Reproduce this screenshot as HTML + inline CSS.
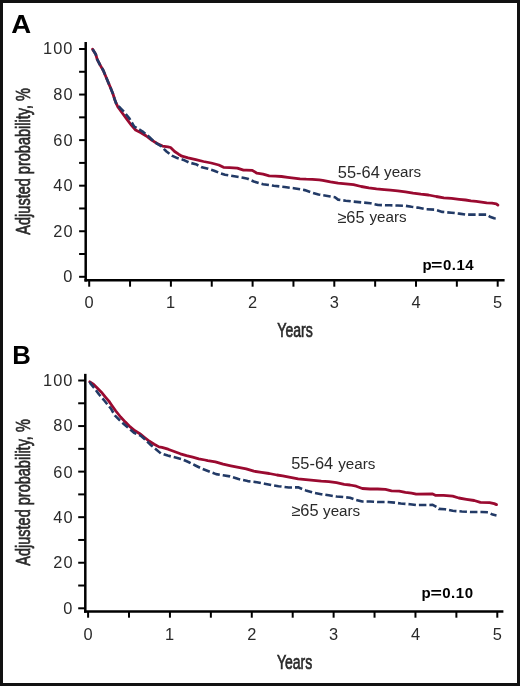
<!DOCTYPE html>
<html><head><meta charset="utf-8"><title>Figure</title>
<style>html,body{margin:0;padding:0;background:#fff;width:520px;height:686px;overflow:hidden}</style>
</head><body>
<svg width="520" height="686" viewBox="0 0 520 686" style="display:block;will-change:transform">
<rect x="0" y="0" width="520" height="686" fill="#fff"/>
<g fill="#2a2a2a" font-family="Liberation Sans, sans-serif">
<text transform="translate(11.22,32.90) scale(1.06,1)" font-size="26" font-weight="bold" fill="#000">A</text>
<text x="12.28" y="363.70" font-size="25.7" font-weight="bold" fill="#000">B</text>
<text x="63.27" y="282.14" font-size="16.4" letter-spacing="1">0</text>
<text x="53.27" y="236.58" font-size="16.4" letter-spacing="1">20</text>
<text x="53.27" y="191.02" font-size="16.4" letter-spacing="1">40</text>
<text x="53.27" y="146.06" font-size="16.4" letter-spacing="1">60</text>
<text x="53.27" y="99.90" font-size="16.4" letter-spacing="1">80</text>
<text x="43.05" y="54.34" font-size="16.4" letter-spacing="1">100</text>
<text x="84.59" y="307.80" font-size="16.4">0</text>
<text x="166.04" y="307.80" font-size="16.4">1</text>
<text x="248.01" y="307.80" font-size="16.4">2</text>
<text x="329.68" y="307.80" font-size="16.4">3</text>
<text x="411.44" y="307.80" font-size="16.4">4</text>
<text x="493.03" y="307.80" font-size="16.4">5</text>
<text transform="translate(277.32,337.00) scale(0.682,1)" font-size="20.6" stroke="#2a2a2a" stroke-width="0.7">Years</text>
<text transform="translate(29.90,234.65) rotate(-90) scale(0.7085,1)" font-size="20.5" stroke="#2a2a2a" stroke-width="0.7">Adjusted probability, %</text>
<text x="63.27" y="613.64" font-size="16.4" letter-spacing="1">0</text>
<text x="53.27" y="568.08" font-size="16.4" letter-spacing="1">20</text>
<text x="53.27" y="522.52" font-size="16.4" letter-spacing="1">40</text>
<text x="53.27" y="477.56" font-size="16.4" letter-spacing="1">60</text>
<text x="53.27" y="431.40" font-size="16.4" letter-spacing="1">80</text>
<text x="43.05" y="385.84" font-size="16.4" letter-spacing="1">100</text>
<text x="83.49" y="639.60" font-size="16.4">0</text>
<text x="165.08" y="639.60" font-size="16.4">1</text>
<text x="247.19" y="639.60" font-size="16.4">2</text>
<text x="329.00" y="639.60" font-size="16.4">3</text>
<text x="410.90" y="639.60" font-size="16.4">4</text>
<text x="492.63" y="639.60" font-size="16.4">5</text>
<text transform="translate(276.92,668.60) scale(0.682,1)" font-size="20.6" stroke="#2a2a2a" stroke-width="0.7">Years</text>
<text transform="translate(29.90,565.75) rotate(-90) scale(0.7085,1)" font-size="20.5" stroke="#2a2a2a" stroke-width="0.7">Adjusted probability, %</text>
<text x="337.84" y="178.00" font-size="16.4">55-64</text>
<text x="384.08" y="177.20" font-size="15.2">years</text>
<text x="337.27" y="223.00" font-size="16.4">≥65</text>
<text x="369.48" y="222.00" font-size="15.2">years</text>
<text x="291.24" y="468.80" font-size="16.4">55-64</text>
<text x="338.28" y="468.80" font-size="15.2">years</text>
<text x="291.27" y="515.50" font-size="16.4">≥65</text>
<text x="323.08" y="515.50" font-size="15.2">years</text>
<text x="422.59" y="269.60" font-size="15" font-weight="bold" fill="#000">p</text>
<text transform="translate(431.03,269.60) scale(1.3,1)" font-size="15" font-weight="bold" fill="#000">=</text>
<text x="443.07" y="269.60" font-size="15" font-weight="bold" letter-spacing="0.43" fill="#000">0.14</text>
<text x="421.39" y="597.70" font-size="15" font-weight="bold" fill="#000">p</text>
<text transform="translate(430.53,597.70) scale(1.3,1)" font-size="15" font-weight="bold" fill="#000">=</text>
<text x="442.17" y="597.70" font-size="15" font-weight="bold" letter-spacing="0.6" fill="#000">0.10</text>
</g>
<g stroke="#000" fill="none">
<line x1="85.7" y1="42" x2="85.7" y2="281.55" stroke-width="2.5"/>
<line x1="84.45" y1="280.3" x2="504.6" y2="280.3" stroke-width="2.5"/>
<line x1="79.1" y1="276.80" x2="85.7" y2="276.80" stroke-width="2"/>
<line x1="79.1" y1="254.02" x2="85.7" y2="254.02" stroke-width="2"/>
<line x1="79.1" y1="231.24" x2="85.7" y2="231.24" stroke-width="2"/>
<line x1="79.1" y1="208.46" x2="85.7" y2="208.46" stroke-width="2"/>
<line x1="79.1" y1="185.68" x2="85.7" y2="185.68" stroke-width="2"/>
<line x1="79.1" y1="162.90" x2="85.7" y2="162.90" stroke-width="2"/>
<line x1="79.1" y1="140.12" x2="85.7" y2="140.12" stroke-width="2"/>
<line x1="79.1" y1="117.34" x2="85.7" y2="117.34" stroke-width="2"/>
<line x1="79.1" y1="94.56" x2="85.7" y2="94.56" stroke-width="2"/>
<line x1="79.1" y1="71.78" x2="85.7" y2="71.78" stroke-width="2"/>
<line x1="79.1" y1="49.00" x2="85.7" y2="49.00" stroke-width="2"/>
<line x1="89.20" y1="280.3" x2="89.20" y2="286.7" stroke-width="2"/>
<line x1="130.05" y1="280.3" x2="130.05" y2="286.7" stroke-width="2"/>
<line x1="170.90" y1="280.3" x2="170.90" y2="286.7" stroke-width="2"/>
<line x1="211.75" y1="280.3" x2="211.75" y2="286.7" stroke-width="2"/>
<line x1="252.60" y1="280.3" x2="252.60" y2="286.7" stroke-width="2"/>
<line x1="293.45" y1="280.3" x2="293.45" y2="286.7" stroke-width="2"/>
<line x1="334.30" y1="280.3" x2="334.30" y2="286.7" stroke-width="2"/>
<line x1="375.15" y1="280.3" x2="375.15" y2="286.7" stroke-width="2"/>
<line x1="416.00" y1="280.3" x2="416.00" y2="286.7" stroke-width="2"/>
<line x1="456.85" y1="280.3" x2="456.85" y2="286.7" stroke-width="2"/>
<line x1="497.70" y1="280.3" x2="497.70" y2="286.7" stroke-width="2"/>
<line x1="85.3" y1="373.85" x2="85.3" y2="612.75" stroke-width="2.5"/>
<line x1="84.05" y1="611.5" x2="503.4" y2="611.5" stroke-width="2.5"/>
<line x1="78.2" y1="608.30" x2="85.3" y2="608.30" stroke-width="2"/>
<line x1="78.2" y1="585.52" x2="85.3" y2="585.52" stroke-width="2"/>
<line x1="78.2" y1="562.74" x2="85.3" y2="562.74" stroke-width="2"/>
<line x1="78.2" y1="539.96" x2="85.3" y2="539.96" stroke-width="2"/>
<line x1="78.2" y1="517.18" x2="85.3" y2="517.18" stroke-width="2"/>
<line x1="78.2" y1="494.40" x2="85.3" y2="494.40" stroke-width="2"/>
<line x1="78.2" y1="471.62" x2="85.3" y2="471.62" stroke-width="2"/>
<line x1="78.2" y1="448.84" x2="85.3" y2="448.84" stroke-width="2"/>
<line x1="78.2" y1="426.06" x2="85.3" y2="426.06" stroke-width="2"/>
<line x1="78.2" y1="403.28" x2="85.3" y2="403.28" stroke-width="2"/>
<line x1="78.2" y1="380.50" x2="85.3" y2="380.50" stroke-width="2"/>
<line x1="88.10" y1="611.5" x2="88.10" y2="617.7" stroke-width="2"/>
<line x1="129.02" y1="611.5" x2="129.02" y2="617.7" stroke-width="2"/>
<line x1="169.94" y1="611.5" x2="169.94" y2="617.7" stroke-width="2"/>
<line x1="210.86" y1="611.5" x2="210.86" y2="617.7" stroke-width="2"/>
<line x1="251.78" y1="611.5" x2="251.78" y2="617.7" stroke-width="2"/>
<line x1="292.70" y1="611.5" x2="292.70" y2="617.7" stroke-width="2"/>
<line x1="333.62" y1="611.5" x2="333.62" y2="617.7" stroke-width="2"/>
<line x1="374.54" y1="611.5" x2="374.54" y2="617.7" stroke-width="2"/>
<line x1="415.46" y1="611.5" x2="415.46" y2="617.7" stroke-width="2"/>
<line x1="456.38" y1="611.5" x2="456.38" y2="617.7" stroke-width="2"/>
<line x1="497.30" y1="611.5" x2="497.30" y2="617.7" stroke-width="2"/>
</g>
<g fill="none" stroke-linejoin="round">
<polyline points="92.6,49.3 95.7,54.2 97.2,59.3 100.3,65.4 103.3,70.5 105.9,76.7 108.4,82.8 111.0,88.9 113.0,94.0 114.7,99.5 116.1,103.2 118.1,107.3 122.8,113.8 126.8,119.2 131.5,125.3 135.6,130.0 141.0,132.7 146.3,136.0 151.7,140.1 157.1,143.5 162.5,146.1 167.9,146.8 170.6,147.5 174.6,151.5 178.6,154.2 181.9,156.2 188.1,157.8 195.8,159.6 203.5,161.5 211.2,163.0 218.8,165.0 223.5,167.3 229.6,167.6 237.3,168.1 243.5,170.1 246.2,170.1 252.3,170.4 256.9,173.2 263.1,174.2 269.2,175.8 275.4,176.2 281.5,176.5 287.7,177.3 293.8,178.1 300.0,178.8 306.2,179.2 312.3,179.3 319.2,179.9 322.7,180.4 330.4,181.9 338.1,183.2 345.8,183.8 353.5,184.7 361.2,186.5 368.8,187.8 376.5,188.8 384.2,189.6 390.4,190.2 397.7,190.8 405.4,191.9 413.1,193.2 420.8,194.2 428.5,195.0 436.2,196.5 443.8,197.8 451.5,198.4 459.2,199.3 465.6,200.0 470.9,200.9 476.2,201.4 481.5,202.1 486.7,202.8 492.0,203.2 496.3,203.8 497.9,205.1" stroke="#9a0a30" stroke-width="2.8" stroke-linecap="round"/>
<polyline points="92.6,49.3 95.7,54.2 97.2,59.3 100.3,65.4 103.3,70.5 105.9,76.7 108.4,82.8 111.0,88.9 113.0,94.0 114.6,99.1 116.1,103.2 118.0,105.8 119.7,107.3 124.0,111.8 129.5,118.6 134.2,126.6 142.3,131.3 149.0,136.7 154.4,142.1 161.1,146.1 166.5,151.5 171.9,155.6 177.3,158.1 183.5,159.9 189.6,162.7 195.8,164.2 201.9,167.3 208.1,168.8 214.2,170.7 218.8,172.7 225.0,174.7 231.2,175.8 237.3,176.8 243.1,177.8 247.7,178.8 253.8,181.5 263.1,184.2 273.8,185.8 284.6,187.0 293.8,188.2 304.6,190.1 312.3,192.7 318.5,194.5 321.2,195.0 330.4,196.5 335.0,197.3 338.1,199.6 345.8,200.7 353.5,201.6 361.2,202.4 370.4,203.2 378.1,205.0 385.8,205.3 390.0,205.3 397.7,205.5 405.4,205.8 411.5,206.8 417.7,207.6 425.4,209.2 434.6,209.6 442.3,211.9 451.5,212.7 459.2,213.6 465.6,214.6 477.2,214.6 486.7,214.6 489.9,216.7 494.2,218.3 498.4,218.7" stroke="#223a66" stroke-width="2.6" stroke-dasharray="7.5 3"/>
<polyline points="89.8,381.8 93.7,384.5 97.5,388.3 101.4,392.2 105.2,396.8 109.1,401.4 111.0,404.2 115.8,411.0 120.6,417.0 125.4,422.1 130.2,426.9 135.0,430.8 139.8,433.7 144.6,437.5 149.4,441.3 154.2,444.2 159.0,446.9 161.9,447.4 168.1,449.2 174.2,451.5 180.4,453.8 186.5,455.7 192.7,457.2 198.8,458.8 205.0,460.0 207.7,460.7 215.4,461.9 223.1,464.2 230.8,465.8 238.5,467.3 246.2,468.8 253.8,471.2 261.5,472.3 269.2,473.5 276.9,475.0 282.7,475.8 290.4,477.3 298.1,478.9 305.8,479.6 313.5,480.4 321.2,481.2 328.8,481.6 336.5,482.7 344.2,484.3 350.0,485.0 356.2,486.2 362.3,488.5 370.0,489.0 377.7,489.0 385.4,489.3 391.5,490.8 399.2,491.1 405.4,492.3 411.5,493.1 416.2,494.2 432.7,493.9 435.8,495.4 443.5,495.4 452.7,496.2 458.8,498.0 466.5,499.3 474.2,500.5 480.4,502.3 489.6,502.6 494.2,503.6 496.5,504.6" stroke="#9a0a30" stroke-width="2.8" stroke-linecap="round"/>
<polyline points="89.8,381.8 90.6,383.7 94.5,388.3 99.1,394.5 103.7,399.8 107.5,404.5 111.0,408.7 114.8,415.4 120.6,421.2 127.3,426.9 134.0,432.7 140.5,435.6 145.2,439.5 150.4,444.7 155.6,449.0 160.8,453.4 167.7,455.6 174.6,457.3 181.5,459.1 188.4,462.0 195.4,465.5 202.3,468.9 209.2,471.5 216.1,474.1 223.0,475.3 230.0,476.4 238.5,479.1 247.7,481.1 256.9,482.2 264.6,483.7 272.3,485.2 278.5,486.2 288.8,487.5 298.1,487.3 305.8,490.4 313.5,492.7 321.2,494.2 328.8,495.3 336.5,496.5 345.8,497.3 350.0,497.7 356.2,500.0 362.3,501.5 370.0,501.5 377.7,502.0 386.9,502.0 394.6,502.6 400.8,503.5 410.0,504.2 416.2,505.1 432.7,504.9 436.5,506.9 438.8,508.9 445.0,509.2 452.7,510.8 461.9,511.5 471.2,512.0 481.9,512.0 488.1,512.3 492.7,514.6 496.5,515.4" stroke="#223a66" stroke-width="2.6" stroke-dasharray="7.5 3"/>
</g>
<rect x="1.5" y="1.5" width="517" height="683" fill="none" stroke="#111" stroke-width="3"/>
</svg>
</body></html>
